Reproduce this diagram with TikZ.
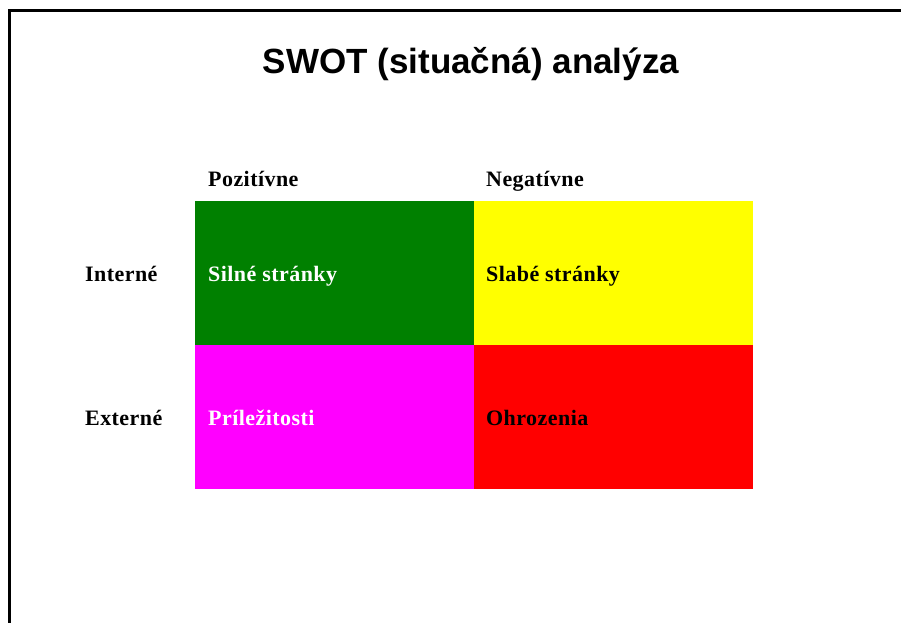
\documentclass[tikz,border=0pt]{standalone}
\usepackage{fontspec}
\setmainfont{Liberation Serif}
\newfontfamily\headfont{Liberation Sans}
\newfontfamily\lblfont[LetterSpace=2]{Liberation Serif}
\usepackage{tikz}
\usetikzlibrary{positioning}
\definecolor{swotgreen}{rgb}{0.0, 0.5, 0.0}
\definecolor{swotyellow}{rgb}{1.0, 1.0, 0.0}
\definecolor{swotmagenta}{rgb}{1.0, 0.0, 1.0}
\definecolor{swotred}{rgb}{1.0, 0.0, 0.0}

\begin{document}
\begin{tikzpicture}[x=1pt, y=-1pt]
	\tikzstyle{cell}=[draw=none, minimum height=144pt, minimum width=279pt, inner sep=0pt, outer sep=0pt]
	\tikzstyle{lbl}=[anchor=base west, inner sep=0pt, text=black, font=\lblfont\fontsize{22}{26}\selectfont\bfseries]
	
	\useasboundingbox (0,0) rectangle (901,622);
	%% frame of the slide
	\draw[line width=3pt] (9,640) -- (9,10) -- (920,10);
	
	\node[anchor=base, inner sep=0pt, font=\headfont\fontsize{35}{42}\selectfont\bfseries] (title) at (471,73) {SWOT (situačná) analýza};
	
	%% the four fields
	\node [cell, fill=swotgreen, anchor=north west] (S) at (195,201) {};
	\node [cell, fill=swotyellow, right=0pt of S] (W) {};
	\node [cell, fill=swotmagenta, below=0pt of S] (O) {};
	\node [cell, fill=swotred, below=0pt of W] (T) {};
	
	%% column and row heads
	\node [lbl] (pos) at (208,186) {Pozitívne};
	\node [lbl] (neg) at (486,186) {Negatívne};
	\node [lbl] (int) at (85,281) {Interné};
	\node [lbl] (ext) at (85,425) {Externé};
	
	%% texts in the fields
	\node [lbl, text=white] (Stxt) at (208,281) {Silné stránky};
	\node [lbl] (Wtxt) at (486,281) {Slabé stránky};
	\node [lbl, text=white] (Otxt) at (208,425) {Príležitosti};
	\node [lbl] (Ttxt) at (486,425) {Ohrozenia};
\end{tikzpicture}
\end{document}
